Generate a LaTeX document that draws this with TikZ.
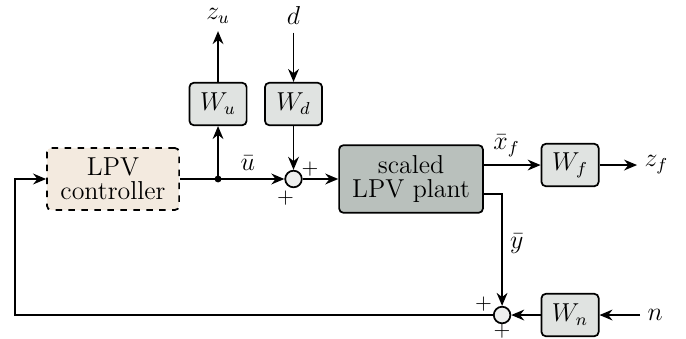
\documentclass[tikz,border=0pt]{standalone}
\usepackage{amsmath}
\usepackage{xcolor}
\usepackage{tikz}
\usetikzlibrary{positioning,arrows.meta,calc}

\definecolor{ctrlfill}{HTML}{F3EADF}
\definecolor{wfill}{HTML}{E0E3E1}
\definecolor{plantfill}{HTML}{B9C0BC}
\definecolor{sumfill}{HTML}{EDEEED}

\begin{document}
\begin{tikzpicture}[font=\large,
      blk/.style={draw,thick,rounded corners=2pt,fill=wfill,minimum width=0.93cm,minimum height=0.69cm,inner sep=1pt},
      sumnode/.style={draw,thick,circle,fill=sumfill,minimum size=0.27cm,inner sep=0pt},
      sgn/.style={inner sep=0pt,font=\normalsize},
      arr/.style={-{Stealth[length=6pt,width=5pt]},thick},
      ln/.style={thick}]
    \useasboundingbox (0,0) rectangle (11.16,-5.515);
    % controller and plant
    \node[blk,dashed,fill=ctrlfill,minimum width=2.15cm,minimum height=1.01cm,align=center] (ctrl) at (1.839,-2.912) {LPV\\[-3pt]controller};
    \node[blk,fill=plantfill,minimum width=2.34cm,minimum height=1.1cm,align=center] (plant) at (6.687,-2.912) {scaled\\[-3pt]LPV plant};
    % weights
    \node[blk] (Wu) at (3.547,-1.692) {$W_u$};
    \node[blk] (Wd) at (4.775,-1.692) {$W_d$};
    \node[blk] (Wf) at (9.274,-2.685) {$W_f$};
    \node[blk] (Wn) at (9.274,-5.125) {$W_n$};
    % summing junctions
    \node[sumnode] (s1) at (4.775,-2.912) {};
    \node[sumnode] (s2) at (8.168,-5.125) {};
    \fill (3.547,-2.912) circle (1.6pt) coordinate (br);
    % signals
    \node (zu) at (3.547,-0.26) {$z_u$};
    \node (d) at (4.775,-0.26) {$d$};
    \node (zf) at (10.68,-2.685) {$z_f$};
    \node (n) at (10.66,-5.125) {$n$};
    \coordinate (ytop) at ($(plant.east)+(0,-0.244)$);
    \coordinate (xtop) at ($(plant.east)+(0,0.227)$);
    \coordinate (fb) at (0.244,-5.125);
    % connections
    \draw[ln] (ctrl.east) -- (br);
    \draw[arr] (br) -- node[above,pos=0.45] {$\bar{u}$} (s1.west);
    \draw[arr] (br) -- (Wu.south);
    \draw[arr] (Wu.north) -- (zu.south);
    \draw[arr] (d.south) -- (Wd.north);
    \draw[arr] (Wd.south) -- (s1.north);
    \draw[arr] (s1.east) -- (plant.west);
    \draw[arr] (xtop) -- node[above,pos=0.4] {$\bar{x}_f$} (Wf.west);
    \draw[arr] (Wf.east) -- (zf.west);
    \draw[arr] (ytop) -| node[right,pos=0.72] {$\bar{y}$} (s2.north);
    \draw[arr] (n.west) -- (Wn.east);
    \draw[arr] (Wn.west) -- (s2.east);
    \draw[arr] (s2.west) -- (fb) |- (ctrl.west);
    % signs
    \node[sgn] at ($(s1)+(0.27,0.16)$) {$+$};
    \node[sgn] at ($(s1)+(-0.13,-0.31)$) {$+$};
    \node[sgn] at ($(s2)+(-0.3,0.17)$) {$+$};
    \node[sgn] at ($(s2)+(0,-0.26)$) {$+$};
  \end{tikzpicture}
\end{document}
